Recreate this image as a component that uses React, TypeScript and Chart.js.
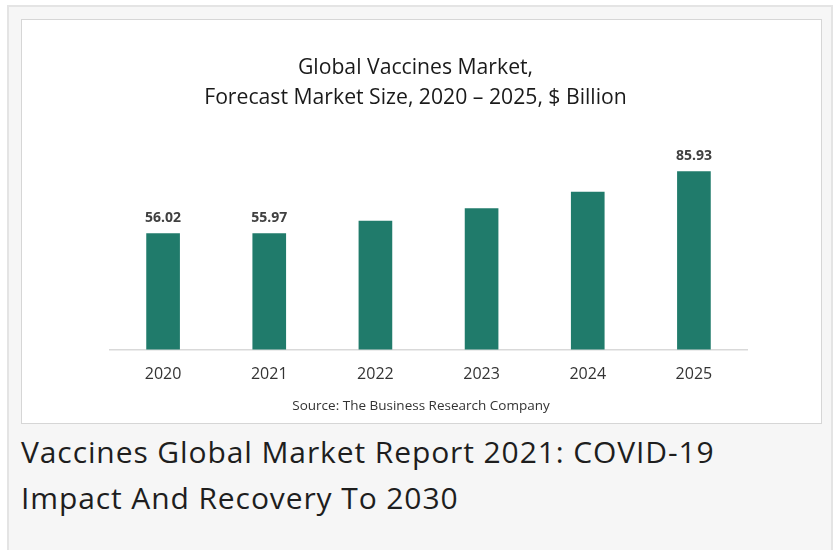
import React, { useEffect, useRef } from "react";
import { Chart, registerables } from "chart.js";

Chart.register(...registerables);

const categories = ["2020", "2021", "2022", "2023", "2024", "2025"];
const marketSize = [56.02, 55.97, 62.0, 68.1, 76.0, 85.93];
const shownLabels = ["56.02", "55.97", null, null, null, "85.93"];
const titleLines = ["Global Vaccines Market,", "Forecast Market Size, 2020 \u2013 2025, $ Billion"];
const sourceText = "Source: The Business Research Company";
const headingText = "Vaccines Global Market Report 2021: COVID-19 Impact And Recovery To 2030";

const BAR_COLOR = "#207b6b";
const CHART_FONT = "'Open Sans', sans-serif";

const valueLabelPlugin = {
  id: "valueLabels",
  afterDatasetsDraw(chart: any) {
    const ctx = chart.ctx;
    const meta = chart.getDatasetMeta(0);
    ctx.save();
    ctx.font = "bold 14px 'Open Sans', sans-serif";
    ctx.fillStyle = "#404040";
    ctx.textAlign = "center";
    ctx.textBaseline = "middle";
    meta.data.forEach((bar: any, i: number) => {
      const t = shownLabels[i];
      if (t) ctx.fillText(t, bar.x, bar.y - 15.5);
    });
    ctx.restore();
  },
};

// Title and source line, centred on the picture's own centre line
const captionPlugin = {
  id: "captions",
  afterDraw(chart: any) {
    const ctx = chart.ctx;
    ctx.save();
    ctx.textAlign = "center";
    ctx.textBaseline = "middle";
    ctx.fillStyle = "#1a1a1a";
    ctx.font = "21.2px " + CHART_FONT;
    titleLines.forEach((line, i) => ctx.fillText(line, 393.5, 48 + i * 30));
    ctx.fillStyle = "#333333";
    ctx.font = "13.5px " + CHART_FONT;
    ctx.fillText(sourceText, 399, 386);
    ctx.restore();
  },
};

function BarChart() {
  const ref = useRef<HTMLCanvasElement | null>(null);
  useEffect(() => {
    if (!ref.current) return;
    const chart = new Chart(ref.current, {
      type: "bar",
      data: {
        labels: categories,
        datasets: [
          {
            data: marketSize,
            backgroundColor: BAR_COLOR,
            borderWidth: 0,
            barThickness: 33,
          },
        ],
      },
      options: {
        animation: false,
        responsive: false,
        maintainAspectRatio: false,
        layout: { padding: { left: 88, right: 74, top: 122.5, bottom: 24.2 } },
        plugins: {
          legend: { display: false },
          tooltip: { enabled: false },
          title: { display: false },
        },
        scales: {
          x: {
            grid: { display: false, drawTicks: false },
            border: { display: true, color: "#d9d9d9", width: 1.5 },
            ticks: {
              color: "#333333",
              padding: 15,
              font: { family: CHART_FONT, size: 16 },
            },
          },
          y: {
            display: false,
            min: 0,
            max: 100,
          },
        },
      },
      plugins: [valueLabelPlugin, captionPlugin],
    });
    return () => chart.destroy();
  }, []);
  return <canvas ref={ref} width={799} height={403} style={{ display: "block" }} />;
}

export default function App() {
  return (
    <div style={{ position: "fixed", left: 0, top: 0, width: 836, height: 550, overflow: "hidden", background: "#ffffff" }}>
      <div
        style={{
          position: "absolute",
          left: 7,
          top: 5,
          width: 822,
          height: 560,
          background: "#f6f6f6",
          border: "2px solid #e4e4e4",
        }}
      />
      <div
        style={{
          position: "absolute",
          left: 21,
          top: 19,
          width: 799,
          height: 403,
          background: "#ffffff",
          border: "1px solid #d6d6d6",
        }}
      >
        <BarChart />
      </div>
      <div
        style={{
          position: "absolute",
          left: 21,
          top: 429,
          width: 760,
          fontFamily: "'Open Sans', sans-serif",
          fontSize: 30,
          letterSpacing: 0.9,
          lineHeight: "46px",
          color: "#1e1e1e",
        }}
      >
        {headingText}
      </div>
    </div>
  );
}
